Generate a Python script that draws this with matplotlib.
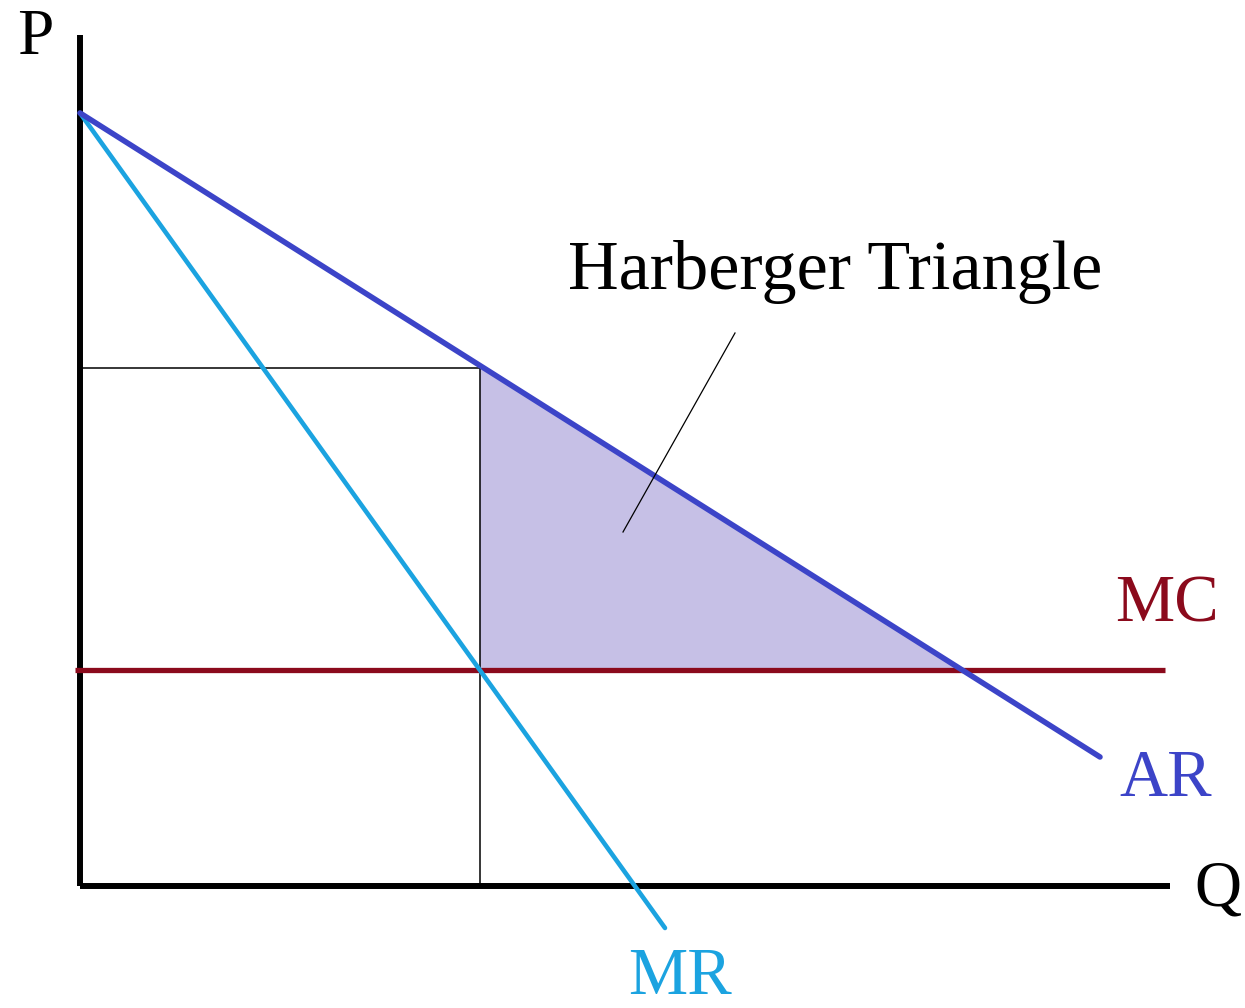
import matplotlib
matplotlib.use('agg')
import matplotlib.pyplot as plt
import numpy as np

# curve endpoints (quantity, price) in chart units
ar_q = [0, 1020]
ar_p = [773, 129]
mr_q = [0, 585]
mr_p = [773, -42]
mc_q = [-5, 1085]
mc_p = [216, 216]

# monopoly output and price
q_m = 400
p_m = 518
# triangle corners
tri_q = [400, 400, 882]
tri_p = [518, 216, 216]

# pointer from label to triangle
ptr_q = [655, 543]
ptr_p = [553, 354]

serif = ['Liberation Serif', 'DejaVu Serif']

fig = plt.figure(figsize=(12.45, 10.08), dpi=100)
ax = fig.add_axes([0, 0, 1, 1])
ax.set_xlim(-80, 1165)
ax.set_ylim(-122, 886)
ax.axis('off')

ax.fill(tri_q, tri_p, color='#c6c0e6', zorder=1)

ax.plot([0, 0], [0, 851], color='black', lw=4.3, solid_capstyle='butt', zorder=3)
ax.plot([0, 1090], [0, 0], color='black', lw=4.3, solid_capstyle='butt', zorder=3)

ax.plot([0, q_m], [p_m, p_m], color='black', lw=1.1, zorder=2)
ax.plot([q_m, q_m], [0, p_m], color='black', lw=1.1, zorder=2)

ax.plot(mc_q, mc_p, color='#8b0a1c', lw=3.8, solid_capstyle='butt', zorder=4)
ax.plot(mr_q, mr_p, color='#1ba3e0', lw=3.3, solid_capstyle='round', zorder=5)
ax.plot(ar_q, ar_p, color='#3c44c8', lw=4.0, solid_capstyle='round', zorder=6)

ax.plot(ptr_q, ptr_p, color='black', lw=0.9, zorder=7)

ax.text(755, 614, 'Harberger Triangle', fontsize=50.5, family=serif, ha='center', va='center')
ax.text(-45, 848, 'P', fontsize=47, family=serif, ha='center', va='center')
ax.text(1138, -4, 'Q', fontsize=47, family=serif, ha='center', va='center')
ax.text(1087, 281, 'MC', fontsize=48, family=serif, ha='center', va='center', color='#8b0a1c')
ax.text(1086, 106, 'AR', fontsize=48, family=serif, ha='center', va='center', color='#3c44c8')
ax.text(600, -92, 'MR', fontsize=48, family=serif, ha='center', va='center', color='#1ba3e0')

fig.savefig('out.png', dpi=100)
